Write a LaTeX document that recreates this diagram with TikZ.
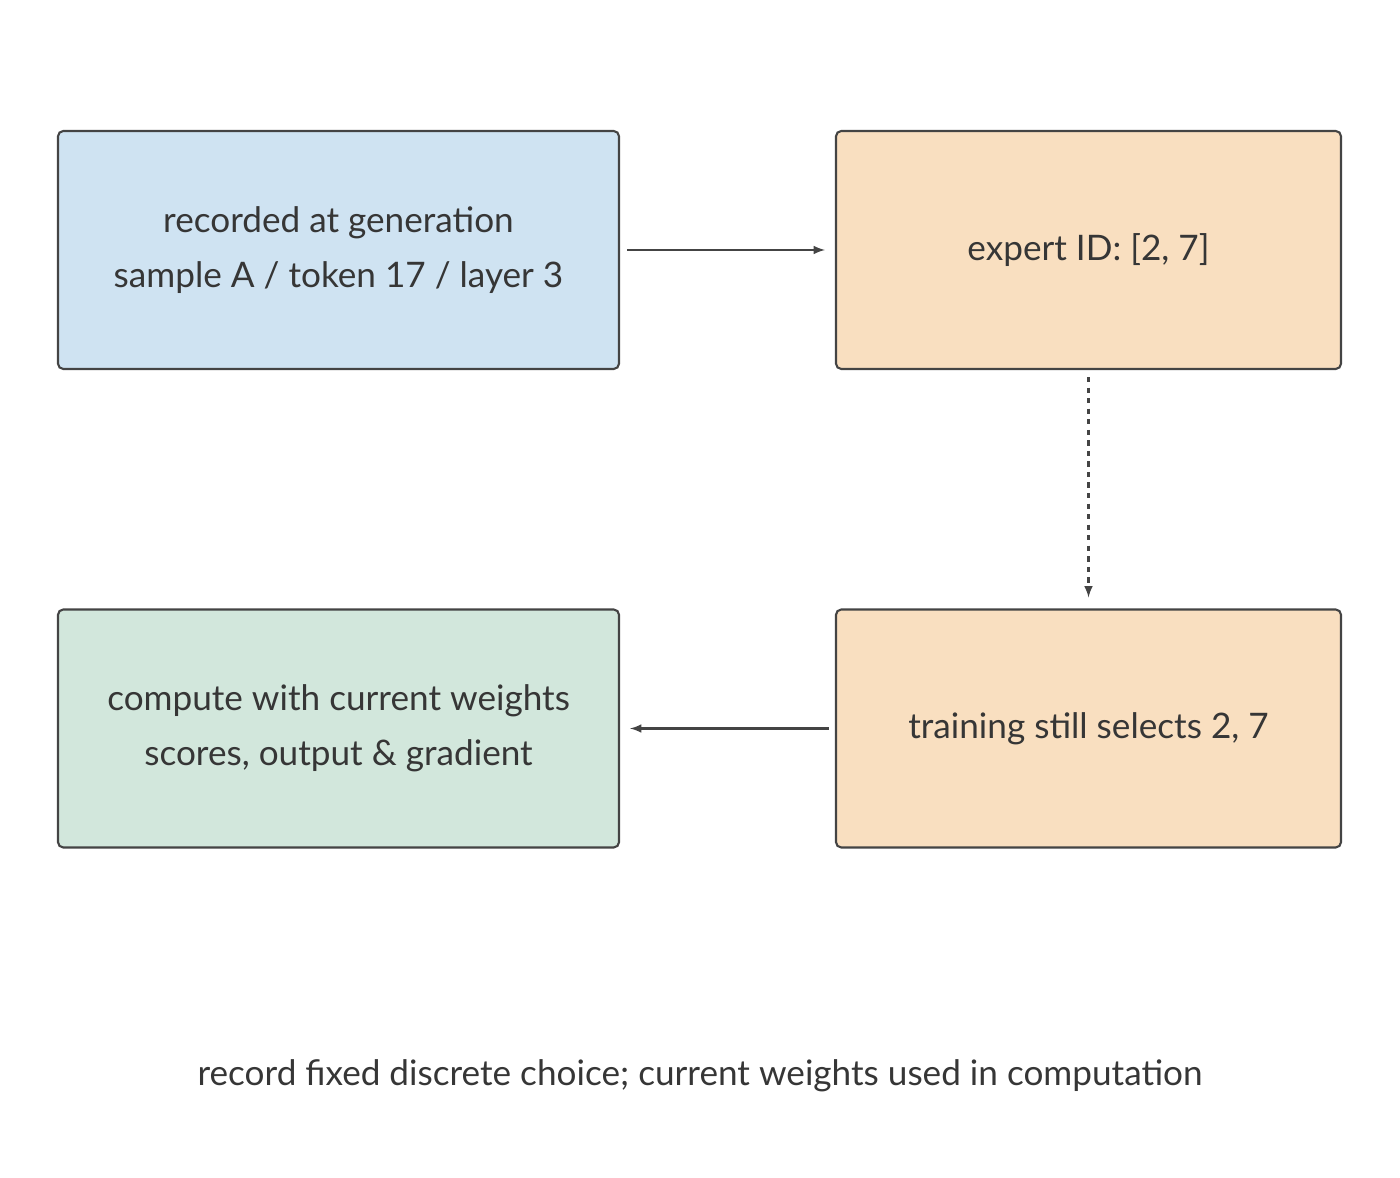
\documentclass[tikz,border=0pt]{standalone}
\usepackage{fontspec}
\setmainfont{Lato}
\usetikzlibrary{arrows, positioning}
\definecolor{mblue}{HTML}{CFE3F2}
\definecolor{morange}{HTML}{F9DFC0}
\definecolor{mgreen}{HTML}{D2E7DC}
\definecolor{mline}{HTML}{444444}
\tikzstyle{stage} = [rectangle, rounded corners=3pt, draw=mline, line width=1.2pt, minimum height=4.76cm, text=mline!80!black, align=center, font=\fontsize{20}{31}\selectfont]
\tikzstyle{wide} = [stage, minimum width=11.22cm]
\tikzstyle{narrow} = [stage, minimum width=10.1cm]
\tikzstyle{link} = [line width=1.2pt, draw=mline, ->, >=latex]

\begin{document}
\begin{tikzpicture}
  \useasboundingbox (0,0) rectangle (28,23.56);
  \node (rec) [wide, fill=mblue] at (6.77,18.56) {recorded at generation\\sample A / token 17 / layer 3};
  \node (eid) [narrow, fill=morange] at (21.77,18.56) {expert ID: [2, 7]};
  \node (sel) [narrow, fill=morange] at (21.77,8.99) {training still selects 2, 7};
  \node (cmp) [wide, fill=mgreen] at (6.77,8.99) {compute with current weights\\scores, output \& gradient};
  \draw [link, shorten <=0.14cm, shorten >=0.2cm] (rec) -- (eid);
  \draw [link, dashed, shorten <=0.14cm, shorten >=0.22cm] (eid) -- (sel);
  \draw [link, shorten <=0.12cm, shorten >=0.2cm] (sel) -- (cmp);
  \node (cap) [text=mline!80!black, font=\fontsize{20}{24}\selectfont] at (14,2.04) {record fixed discrete choice; current weights used in computation};
\end{tikzpicture}
\end{document}
